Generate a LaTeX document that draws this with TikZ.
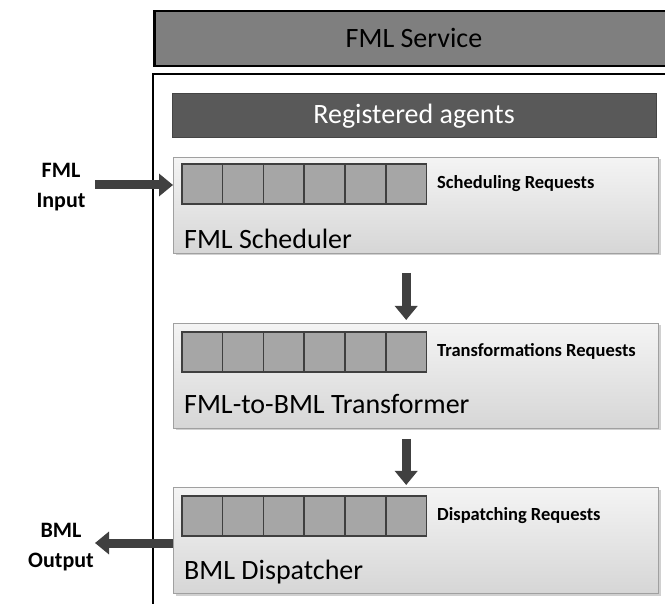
\documentclass[tikz,border=0pt]{standalone}
\usepackage{fontspec}
\setmainfont{Carlito}
\usetikzlibrary{arrows.meta,shadows,calc}
\definecolor{svcgray}{HTML}{7F7F7F}
\definecolor{reggray}{HTML}{595959}
\definecolor{reggrayb}{HTML}{454545}
\definecolor{boxtop}{HTML}{F4F4F4}
\definecolor{boxbot}{HTML}{D6D6D6}
\definecolor{boxline}{HTML}{A0A0A0}
\definecolor{cellfill}{HTML}{A6A6A6}
\definecolor{cellline}{HTML}{3F3F3F}
\definecolor{arrowgray}{HTML}{404040}
\begin{document}
\begin{tikzpicture}[x=1pt,y=-1pt,
  svcbox/.style={draw=black,line width=2.5pt,fill=svcgray,anchor=north west,inner sep=0pt},
  regbox/.style={draw=reggrayb,line width=1pt,fill=reggray,anchor=north west,inner sep=0pt},
  agentbox/.style={draw=boxline,line width=1pt,top color=boxtop,bottom color=boxbot,
     anchor=north west,inner sep=0pt,minimum width=485pt,minimum height=104pt,
     drop shadow={shadow xshift=2pt,shadow yshift=-2pt,opacity=0.3,fill=black!60}},
  qcell/.style={draw=cellline,line width=1.6pt,fill=cellfill,anchor=north west,
     inner sep=0pt,minimum width=40.8pt,minimum height=40pt},
  title/.style={font=\fontsize{28}{32}\selectfont,anchor=base west,inner sep=0pt},
  reqlabel/.style={font=\bfseries\fontsize{18.5}{22}\selectfont,anchor=base west,inner sep=0pt},
  sidelabel/.style={font=\bfseries\fontsize{22}{30}\selectfont,align=center,inner sep=0pt},
  bigarrow/.style={draw=arrowgray,line width=9pt,
     -{Triangle[width=22pt,length=14pt,fill=arrowgray]}}
]
\useasboundingbox (0,0) rectangle (665,604);
\fill[white] (0,0) rectangle (665,604);
% FML Service
\node[svcbox,minimum width=530pt,minimum height=55pt] (svc) at (153,10) {};
\node[font=\fontsize{28}{32}\selectfont,text=black,inner sep=0pt] (svct) at (414,38) {FML Service};
% outer box
\draw[line width=2.5pt] (153,640) -- (153,74) -- (700,74);
\coordinate (outer) at (153,74);
% Registered agents
\node[regbox,minimum width=484pt,minimum height=44pt] (reg) at (172,93) {};
\node[font=\fontsize{28}{32}\selectfont,text=white,inner sep=0pt] (regt) at (414,116) {Registered agents};
% three agent boxes
\node[agentbox,minimum height=96pt] (sch) at (173,157) {};
\node[agentbox,minimum height=105pt] (tr) at (173,323) {};
\node[agentbox,minimum height=106pt] (dis) at (173,487) {};
% queues
\foreach \i in {1,...,6}{
  \node[qcell] (s\i) at ({181+(\i-1)*40.8},163) {};
  \node[qcell] (t\i) at ({181+(\i-1)*40.8},331) {};
  \node[qcell] (d\i) at ({181+(\i-1)*40.8},495) {};
}
% labels
\node[reqlabel] (sreq) at (437,189) {Scheduling Requests};
\node[reqlabel] (treq) at (437,357) {Transformations Requests};
\node[reqlabel] (dreq) at (437,521) {Dispatching Requests};
\node[title] (stitle) at (184,249) {FML Scheduler};
\node[title] (ttitle) at (184,414) {FML-to-BML Transformer};
\node[title] (dtitle) at (184,579) {BML Dispatcher};
% side labels
\node[sidelabel] (fin) at (61,187) {FML\\Input};
\node[sidelabel] (bout) at (61,547) {BML\\Output};
\coordinate (inpt) at (95,185);
\coordinate (outpt) at (95,543);
% arrows
\draw[bigarrow] (inpt) -- (sch.west |- inpt);
\draw[bigarrow] (dis.west |- outpt) -- (outpt);
\draw[bigarrow,shorten <=19pt,shorten >=3pt] (sch.south -| s6) -- (tr.north -| s6);
\draw[bigarrow,shorten <=10pt,shorten >=2pt] (tr.south -| t6) -- (dis.north -| t6);
\end{tikzpicture}
\end{document}
